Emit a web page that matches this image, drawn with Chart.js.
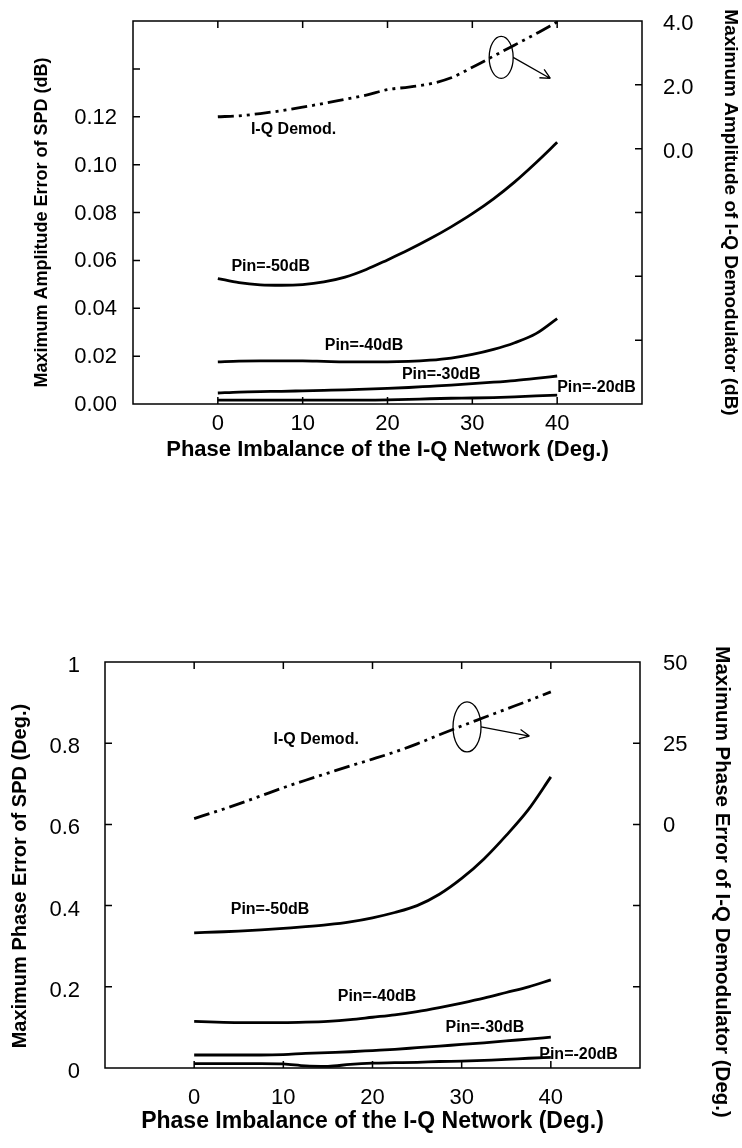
<!DOCTYPE html>
<html>
<head>
<meta charset="utf-8">
<script src="https://cdn.jsdelivr.net/npm/chart.js@4.4.1/dist/chart.umd.min.js"></script>
<style>
  body { margin: 0; background: #fff; }
  #wrap { position: relative; width: 742px; height: 1148px; background: #fff; }
  #ampChart { position: absolute; left: 0; top: 0; }
  #phaseChart { position: absolute; left: 0; top: 600px; }
</style>
</head>
<body>
<div id="wrap">
  <canvas id="ampChart" width="742" height="490"></canvas>
  <canvas id="phaseChart" width="742" height="548"></canvas>
</div>
<script>
// phase imbalance of the I-Q network (deg.)
const phase = [0, 2.5, 5, 7.5, 10, 12.5, 15, 17.5, 20, 22.5, 25, 27.5, 30, 32.5, 35, 37.5, 40];

// top chart: maximum amplitude error of SPD (dB)
const ampPin50 = [0.0524, 0.0507, 0.0498, 0.0496, 0.0499, 0.0510, 0.0530, 0.0562, 0.0602, 0.0644, 0.0690, 0.0740, 0.0795, 0.0857, 0.0928, 0.1008, 0.1093];
const ampPin40 = [0.0176, 0.0179, 0.0180, 0.0180, 0.0180, 0.0178, 0.0176, 0.0176, 0.0176, 0.0178, 0.0183, 0.0192, 0.0207, 0.0228, 0.0256, 0.0294, 0.0357];
const ampPin30 = [0.0046, 0.0050, 0.0052, 0.0053, 0.0055, 0.0057, 0.0059, 0.0062, 0.0065, 0.0069, 0.0074, 0.0079, 0.0085, 0.0091, 0.0098, 0.0107, 0.0117];
const ampPin20 = [0.0016, 0.0016, 0.0016, 0.0016, 0.0016, 0.0016, 0.0016, 0.0016, 0.0017, 0.0019, 0.0022, 0.0024, 0.0025, 0.0027, 0.0030, 0.0034, 0.0037];
// maximum amplitude of I-Q demodulator (dB), right axis
const ampDemod = [1.00, 1.03, 1.10, 1.19, 1.30, 1.42, 1.55, 1.68, 1.85, 1.93, 2.03, 2.22, 2.55, 2.90, 3.25, 3.60, 3.97];

// bottom chart: maximum phase error of SPD (deg.)
const phPin50 = [0.333, 0.335, 0.337, 0.340, 0.344, 0.348, 0.353, 0.360, 0.370, 0.383, 0.400, 0.428, 0.467, 0.515, 0.573, 0.637, 0.717];
const phPin40 = [0.115, 0.113, 0.112, 0.112, 0.112, 0.113, 0.115, 0.119, 0.125, 0.131, 0.139, 0.149, 0.160, 0.172, 0.186, 0.200, 0.217];
const phPin30 = [0.032, 0.032, 0.032, 0.032, 0.033, 0.036, 0.038, 0.040, 0.043, 0.046, 0.050, 0.054, 0.058, 0.062, 0.067, 0.071, 0.076];
const phPin20 = [0.011, 0.011, 0.011, 0.011, 0.010, 0.005, 0.004, 0.009, 0.012, 0.013, 0.014, 0.016, 0.017, 0.019, 0.021, 0.024, 0.026];
// maximum phase error of I-Q demodulator (deg.), right axis
const phDemod = [1.8, 4.0, 6.3, 8.8, 11.3, 13.6, 15.8, 18.0, 20.1, 22.3, 24.8, 27.6, 30.3, 32.9, 35.5, 38.1, 40.8];

// curve labels, in data units (x, left-axis y)
const ampNotes = [
  { text: 'I-Q Demod.', x: 3.9, y: 0.1148 },
  { text: 'Pin=-50dB', x: 1.6, y: 0.0574 },
  { text: 'Pin=-40dB', x: 12.6, y: 0.0243 },
  { text: 'Pin=-30dB', x: 21.7, y: 0.0121 },
  { text: 'Pin=-20dB', x: 40.0, y: 0.0067 }
];
const phNotes = [
  { text: 'I-Q Demod.', x: 8.9, y: 0.81 },
  { text: 'Pin=-50dB', x: 4.1, y: 0.389 },
  { text: 'Pin=-40dB', x: 16.1, y: 0.177 },
  { text: 'Pin=-30dB', x: 28.2, y: 0.0985 },
  { text: 'Pin=-20dB', x: 38.7, y: 0.032 }
];
// ring + arrow pointing at the right axis (x, right-axis y)
const ampRing = { x: 33.4, y: 2.86, rx: 12, ry: 21, toX: 39.2, toY: 2.2 };
const phRing = { x: 30.6, y: 30, rx: 14, ry: 25, toX: 37.6, toY: 27.2 };

const FONT = '"Liberation Sans", Arial, Helvetica, sans-serif';

function pts(ys) {
  return phase.map((p, i) => ({ x: p, y: ys[i] }));
}

function curve(ys, axis, dash) {
  return {
    data: pts(ys),
    yAxisID: axis,
    borderColor: '#000',
    borderWidth: 2.8,
    borderDash: dash || [],
    pointRadius: 0,
    fill: false,
    cubicInterpolationMode: 'monotone'
  };
}

const isInside = (v, s) => v > s.min + 1e-9 && v < s.max - 1e-9;

// frame, inward tick marks, curve labels and the ring/arrow
const framePlugin = {
  id: 'frame',
  afterDatasetsDraw(chart, args, opts) {
    const { ctx, chartArea: a, scales } = chart;
    const x = scales.x, y = scales.y, y1 = scales.y1;
    const L = 7;
    ctx.save();
    ctx.strokeStyle = '#000';
    ctx.lineWidth = 1.5;
    ctx.strokeRect(a.left, a.top, a.right - a.left, a.bottom - a.top);

    ctx.beginPath();
    x.ticks.forEach(t => {
      if (!isInside(t.value, x)) return;
      const p = x.getPixelForValue(t.value);
      ctx.moveTo(p, a.bottom); ctx.lineTo(p, a.bottom - L);
      ctx.moveTo(p, a.top); ctx.lineTo(p, a.top + L);
    });
    y.ticks.forEach(t => {
      if (!isInside(t.value, y)) return;
      const p = y.getPixelForValue(t.value);
      ctx.moveTo(a.left, p); ctx.lineTo(a.left + L, p);
    });
    y1.ticks.forEach(t => {
      if (!isInside(t.value, y1)) return;
      const p = y1.getPixelForValue(t.value);
      ctx.moveTo(a.right, p); ctx.lineTo(a.right - L, p);
    });
    ctx.stroke();

    // labels on the curves
    ctx.fillStyle = '#000';
    ctx.font = 'bold 16px ' + FONT;
    ctx.textAlign = 'left';
    ctx.textBaseline = 'middle';
    opts.notes.forEach(n => {
      ctx.fillText(n.text, x.getPixelForValue(n.x), y.getPixelForValue(n.y));
    });

    // ring around the demodulator curve with an arrow to the right axis
    const r = opts.ring;
    const cx = x.getPixelForValue(r.x), cy = y1.getPixelForValue(r.y);
    ctx.lineWidth = 1.3;
    ctx.beginPath();
    ctx.ellipse(cx, cy, r.rx, r.ry, 0, 0, Math.PI * 2);
    ctx.stroke();
    const sx = cx + r.rx, sy = cy;
    const ex = x.getPixelForValue(r.toX), ey = y1.getPixelForValue(r.toY);
    const ang = Math.atan2(ey - sy, ex - sx);
    ctx.beginPath();
    ctx.moveTo(sx, sy); ctx.lineTo(ex, ey);
    ctx.moveTo(ex, ey); ctx.lineTo(ex - 11 * Math.cos(ang - 0.45), ey - 11 * Math.sin(ang - 0.45));
    ctx.moveTo(ex, ey); ctx.lineTo(ex - 11 * Math.cos(ang + 0.45), ey - 11 * Math.sin(ang + 0.45));
    ctx.stroke();
    ctx.restore();
  }
};

function makeChart(id, c) {
  const dashDotDot = [16, 5, 3, 5, 3, 5];
  return new Chart(document.getElementById(id), {
    type: 'line',
    data: {
      datasets: [
        curve(c.s50, 'y'),
        curve(c.s40, 'y'),
        curve(c.s30, 'y'),
        curve(c.s20, 'y'),
        curve(c.demod, 'y1', dashDotDot)
      ]
    },
    options: {
      responsive: false,
      animation: false,
      layout: { padding: { top: c.padTop, left: 0, right: 0, bottom: 0 } },
      plugins: {
        legend: { display: false },
        tooltip: { enabled: false },
        frame: { notes: c.notes, ring: c.ring }
      },
      scales: {
        x: {
          type: 'linear', min: -10, max: 50,
          grid: { display: false, drawTicks: false },
          border: { display: false },
          ticks: {
            stepSize: 10, padding: c.xPad, color: '#000',
            font: { family: FONT, size: c.xTickSize },
            callback: v => (v >= 0 && v <= 40) ? String(v) : ''
          },
          title: {
            display: true, text: 'Phase Imbalance of the I-Q Network (Deg.)', color: '#000',
            font: { family: FONT, size: c.xTitleSize, weight: 'bold' },
            padding: { top: 0, bottom: c.xTitlePad }
          },
          afterFit: s => { s.height = c.xH; s.paddingLeft = 0; s.paddingRight = 0; }
        },
        y: {
          position: 'left', min: c.yMin, max: c.yMax,
          grid: { display: false, drawTicks: false },
          border: { display: false },
          ticks: {
            stepSize: c.yStep, padding: c.yPad, color: '#000', labelOffset: c.yLabelOffset,
            font: { family: FONT, size: c.yTickSize },
            callback: c.yFmt
          },
          title: {
            display: true, text: c.yTitle, color: '#000',
            font: { family: FONT, size: c.yTitleSize, weight: 'bold' },
            padding: { top: c.yTitlePad, bottom: 0 }
          },
          afterFit: s => { s.width = c.yW; s.paddingTop = 0; s.paddingBottom = 0; }
        },
        y1: {
          position: 'right', min: c.y1Min, max: c.y1Max,
          grid: { display: false, drawTicks: false },
          border: { display: false },
          ticks: {
            stepSize: c.y1Step, padding: c.y1Pad, color: '#000', labelOffset: c.y1LabelOffset,
            font: { family: FONT, size: c.yTickSize },
            callback: c.y1Fmt
          },
          title: {
            display: true, text: c.y1Title, color: '#000',
            font: { family: FONT, size: c.y1TitleSize, weight: 'bold' },
            padding: { top: c.y1TitlePad, bottom: 0 }
          },
          afterFit: s => { s.width = c.y1W; s.paddingTop = 0; s.paddingBottom = 0; }
        }
      }
    },
    plugins: [framePlugin]
  });
}

makeChart('ampChart', {
  s50: ampPin50, s40: ampPin40, s30: ampPin30, s20: ampPin20, demod: ampDemod,
  notes: ampNotes, ring: ampRing,
  padTop: 21, xH: 86, xPad: 7, xTickSize: 22, xTitleSize: 22, xTitlePad: 27,
  yMin: 0, yMax: 0.16, yStep: 0.02, yPad: 16, yTickSize: 22, yLabelOffset: 1,
  yFmt: v => v <= 0.1201 ? v.toFixed(2) : '',
  yTitle: 'Maximum Amplitude Error of SPD (dB)    ', yTitleSize: 18, yTitlePad: 31, yW: 133,
  y1Min: -8, y1Max: 4, y1Step: 2, y1Pad: 21, y1LabelOffset: 3,
  y1Fmt: v => v >= -0.001 ? v.toFixed(1) : '',
  y1Title: 'Maximum Amplitude of I-Q Demodulator (dB)', y1TitleSize: 19, y1TitlePad: 0, y1W: 100
});

makeChart('phaseChart', {
  s50: phPin50, s40: phPin40, s30: phPin30, s20: phPin20, demod: phDemod,
  notes: phNotes, ring: phRing,
  padTop: 62, xH: 80, xPad: 17, xTickSize: 22, xTitleSize: 23, xTitlePad: 13,
  yMin: 0, yMax: 1, yStep: 0.2, yPad: 25, yTickSize: 22, yLabelOffset: 4,
  yFmt: v => String(+v.toFixed(1)),
  yTitle: 'Maximum Phase Error of SPD (Deg.)    ', yTitleSize: 20, yTitlePad: 8, yW: 105,
  y1Min: -75, y1Max: 50, y1Step: 25, y1Pad: 23, y1LabelOffset: 2,
  y1Fmt: v => v >= 0 ? String(v) : '',
  y1Title: '      Maximum Phase Error of I-Q Demodulator (Deg.)', y1TitleSize: 20.5, y1TitlePad: 8, y1W: 102
});
</script>
</body>
</html>
